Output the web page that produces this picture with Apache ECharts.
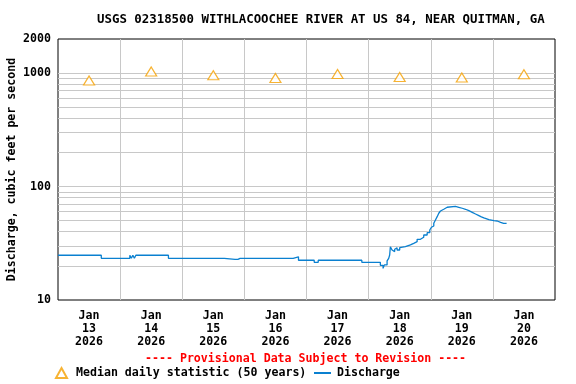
<!DOCTYPE html>
<html>
<head>
<meta charset="utf-8">
<script src="https://cdn.jsdelivr.net/npm/echarts@6/dist/echarts.min.js"></script>
<style>html,body{margin:0;padding:0;background:#fff}#c{width:576px;height:384px}</style>
</head>
<body>
<div id="c"></div>
<script>
// Hours since Jan 13 2026 00:00
var dayTicks = [0, 24, 48, 72, 96, 120, 144, 168, 192];
var dayLabelHours = [12, 36, 60, 84, 108, 132, 156, 180];
var dayLabels = ['Jan\n13\n2026', 'Jan\n14\n2026', 'Jan\n15\n2026', 'Jan\n16\n2026', 'Jan\n17\n2026', 'Jan\n18\n2026', 'Jan\n19\n2026', 'Jan\n20\n2026'];
var yLabelValues = [10, 100, 1000, 2000];
var yGridValues = [10, 20, 30, 40, 50, 60, 70, 80, 90, 100, 200, 300, 400, 500, 600, 700, 800, 900, 1000, 2000];

// Median daily statistic (50 years), at noon of each day
var medianHours = [12, 36, 60, 84, 108, 132, 156, 180];
var medianValues = [862, 1035, 958, 907, 984, 925, 916, 978];

// Discharge readings (hour, cfs)
var dischargeHours = [
  0, 12.46, 12.85, 16.72, 27.75, 28.34, 28.92, 29.5, 30.08, 37.82, 38.4, 42.66,
  46.84, 47.2, 49.05, 49.4, 50.21, 50.6, 51.37, 51.7, 52.53, 52.9, 53.69, 54.1, 58.06, 58.4,
  64.26, 68.4, 69.17, 69.5, 70.34, 70.7, 71.5, 71.9, 72.66, 73.0, 73.82, 74.2, 74.98, 75.3,
  78.97, 79.3, 89.31, 89.7, 90.85, 92.9, 98.98, 100.53, 107.9, 108.47, 113.3, 113.9, 117.37,
  124.53, 125.58, 126.08, 127.13, 127.75, 128.13, 128.4, 129.06, 129.68, 130.07, 130.61, 131.0,
  132.0, 132.27, 134.21, 136.14, 137.42, 138.74, 140.02, 141.29, 142.61, 143.62, 144.27, 144.66,
  145.17, 145.82, 146.48, 147.1, 147.76, 148.42, 149.03, 149.69, 150.35, 150.97, 153.56, 154.84,
  156.16, 157.43, 158.71, 160.03, 161.31, 162.58, 163.55, 164.52, 166.46, 168.39, 169.7, 170.98,
  172.14, 172.53, 173.3
];
var dischargeValues = [
  24.8, 25.4, 24.8, 23.3, 24.8, 23.3, 24.8, 23.3, 24.8, 25.4, 24.8, 23.3,
  22.8, 23.3, 22.8, 23.3, 22.8, 23.3, 22.8, 23.3, 22.8, 23.3, 22.8, 23.3, 22.8, 23.3,
  22.8, 23.3, 22.8, 23.3, 22.8, 23.3, 22.8, 23.3, 22.8, 23.3, 22.8, 23.3, 22.8, 23.3,
  22.8, 23.3, 22.8, 23.3, 24.0, 22.4, 21.5, 22.4, 23.3, 22.4, 23.3, 22.4, 21.5,
  20.2, 19.0, 20.4, 22.1, 23.3, 24.9, 29.5, 27.6, 26.7, 28.0, 28.9, 27.6,
  28.9, 29.5, 30.6, 31.6, 32.7, 34.3, 35.7, 37.4, 39.2, 41.4, 43.8, 44.9,
  47.5, 50.8, 54.3, 58.2, 60.9, 63.1, 64.4, 65.7, 66.5, 66.8, 65.7, 64.4,
  63.1, 61.3, 59.3, 57.3, 55.4, 54.0, 52.9, 51.1, 50.0, 49.7, 48.3, 47.3,
  47.8, 47.3, 47.3
];

var FONT = '"DejaVu Sans Mono", monospace';
var medianData = medianHours.map(function (h, i) { return [h, medianValues[i]]; });
var dischargeData = dischargeHours.map(function (h, i) { return [h, dischargeValues[i]]; });

var chart = echarts.init(document.getElementById('c'), null, {renderer: 'canvas'});
chart.setOption({
  animation: false,
  backgroundColor: '#fff',
  title: [{
    text: 'USGS 02318500 WITHLACOOCHEE RIVER AT US 84, NEAR QUITMAN, GA',
    left: 97, top: 14, padding: 0,
    textStyle: {fontFamily: FONT, fontSize: 12.4, fontWeight: 'bold', color: '#000'}
  }, {
    text: '---- Provisional Data Subject to Revision ----',
    left: 145, top: 353, padding: 0,
    textStyle: {fontFamily: FONT, fontSize: 11.6, fontWeight: 'bold', color: '#ff0000'}
  }],
  legend: [{
    data: ['Median daily statistic (50 years)'],
    left: 55, top: 367, padding: 0,
    itemWidth: 11, itemHeight: 10,
    textStyle: {fontFamily: FONT, fontSize: 11.6, fontWeight: 'bold', color: '#000', padding: [0, 0, 0, 4]}
  }, {
    data: ['Discharge'],
    left: 313, top: 367, padding: 0,
    itemWidth: 17, itemHeight: 10,
    itemStyle: {opacity: 0},
    textStyle: {fontFamily: FONT, fontSize: 11.6, fontWeight: 'bold', color: '#000', padding: [0, 0, 0, 1]}
  }],
  grid: {left: 58, right: 21, top: 39, bottom: 84, outerBoundsMode: 'none', containLabel: false,
    show: true, borderColor: '#000', borderWidth: 1},
  xAxis: {
    type: 'value', min: 0, max: 192, interval: 24,
    axisLine: {show: false}, axisTick: {show: false},
    axisLabel: {
      customValues: dayLabelHours,
      margin: 9,
      lineHeight: 13,
      fontFamily: FONT, fontSize: 11.6, fontWeight: 'bold', color: '#000',
      formatter: function (v) { return dayLabels[dayLabelHours.indexOf(v)]; }
    },
    splitLine: {show: true, showMinLine: false, showMaxLine: false, lineStyle: {color: '#c8c8c8', width: 1}}
  },
  yAxis: {
    type: 'log', logBase: 10, min: 10, max: 2000,
    name: 'Discharge, cubic feet per second',
    nameLocation: 'middle', nameGap: 40, nameMoveOverlap: false,
    nameTextStyle: {fontFamily: FONT, fontSize: 11.6, fontWeight: 'bold', color: '#000'},
    axisLine: {show: false},
    axisTick: {show: false, customValues: yGridValues},
    axisLabel: {customValues: yLabelValues, margin: 7, fontFamily: FONT, fontSize: 11.6, fontWeight: 'bold', color: '#000',
      formatter: function (v) { return String(Math.round(v)); }},
    splitLine: {show: true, showMinLine: false, showMaxLine: false, lineStyle: {color: '#c8c8c8', width: 1}}
  },
  series: [{
    name: 'Median daily statistic (50 years)',
    type: 'scatter',
    symbol: 'triangle', symbolSize: [11, 9],
    itemStyle: {color: '#fff', borderColor: '#f5a000', borderWidth: 1.2},
    data: medianData,
    z: 5
  }, {
    name: 'Discharge',
    type: 'line',
    step: 'end',
    symbol: 'none',
    lineStyle: {color: '#0a80d0', width: 1.3},
    itemStyle: {color: '#0a80d0'},
    data: dischargeData,
    z: 4
  }]
});
</script>
</body>
</html>
